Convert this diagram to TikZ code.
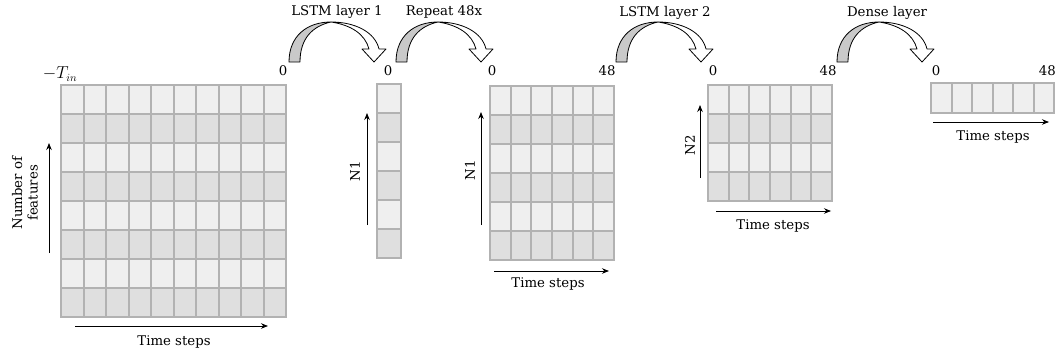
\documentclass[tikz,border=0pt]{standalone}
\usepackage{fontspec}
\setmainfont{DejaVu Serif}
\usetikzlibrary{arrows.meta}

\definecolor{celllight}{HTML}{EFEFEF}
\definecolor{celldark}{HTML}{DFDFDF}
\definecolor{cellline}{HTML}{B2B2B2}
\definecolor{bendgray}{HTML}{C9C9C9}

% striped cell grid: x0, y0, columns, rows, cell width, cell height
\newcommand\cellgrid[6]{%
  \foreach \i in {1,...,#4}{%
    \ifodd\i\relax\def\rowfill{celllight}\else\def\rowfill{celldark}\fi
    \fill[\rowfill] (#1,{#2+(\i-1)*#6}) rectangle ++({#3*#5},#6);
  }%
  \foreach \j in {1,...,#3}{\draw[gridline] ({round(#1+\j*#5)},#2) -- ++(0,{#4*#6});}%
  \foreach \i in {1,...,#4}{\draw[gridline] (#1,{round(#2+\i*#6)}) -- ++({#3*#5},0);}%
  \draw[gridline] (#1,#2) rectangle ++({#3*#5},{#4*#6});
}

% bent block arrow starting at base x = #1, base line y = 62
\newcommand\bentarrow[1]{%
  \filldraw[bendline,fill=bendgray]
    (#1,62) .. controls (#1,36) and (#1+18,22) .. (#1+42,22)
    .. controls (#1+24,26) and (#1+11,38) .. (#1+11,62) -- cycle;
  \filldraw[bendline,fill=white]
    (#1+42,22) .. controls (#1+66,22) and (#1+86,32) .. (#1+90,49)
    -- (#1+97,49) -- (#1+85,62) -- (#1+73,49) -- (#1+80,49)
    .. controls (#1+76,34) and (#1+62,25) .. (#1+42,22) -- cycle;
}

\tikzset{
  gridline/.style={draw=cellline,line width=1.3pt},
  bendline/.style={draw=black,line width=0.8pt,line join=round},
  axis/.style={draw=black,line width=0.8pt,-{Stealth[length=7pt,width=5.5pt]}},
  lbl/.style={inner sep=0pt,font=\fontsize{13.3}{15.5}\selectfont},
  tick/.style={inner sep=0pt,font=\fontsize{13.3}{15.5}\selectfont}
}

\begin{document}
\begin{tikzpicture}[x=1pt,y=-1pt]
\path[use as bounding box] (0,0) rectangle (1056,353);

% input window
\cellgrid{61}{85}{10}{8}{22.5}{29}
% LSTM layer 1 output vector
\cellgrid{377}{84}{1}{6}{24}{29}
% repeated sequence
\cellgrid{490}{86}{6}{6}{20.667}{29}
% LSTM layer 2 output
\cellgrid{708}{85}{6}{4}{20.667}{29}
% dense output
\fill[celllight] (931,83) rectangle (1054,113);
\foreach \j in {1,...,5}{\draw[gridline] ({round(931+\j*20.5)},83) -- ++(0,30);}
\draw[gridline] (931,83) rectangle (1054,113);

% bent arrows between stages
\bentarrow{289}
\bentarrow{396}
\bentarrow{616}
\bentarrow{837}

\node[lbl] (l1) at (337,12) {LSTM layer 1};
\node[lbl] (rp) at (444,12) {Repeat 48x};
\node[lbl] (l2) at (665,13) {LSTM layer 2};
\node[lbl] (dn) at (887,13) {Dense layer};

% time indices
\node[tick,font=\fontsize{16}{18}\selectfont] (tin) at (60,74) {$-T_{in}$};
\node[tick] (z1) at (283,71) {0};
\node[tick] (z2) at (388,71) {0};
\node[tick] (z3) at (492,71) {0};
\node[tick] (e3) at (607,71) {48};
\node[tick] (z4) at (713,71) {0};
\node[tick] (e4) at (828,71) {48};
\node[tick] (z5) at (936,71) {0};
\node[tick,anchor=east] (e5) at (1056,71) {48};

% axes of the input window
\coordinate (f0) at (49,253);
\coordinate (f1) at (49,143);
\draw[axis] (f0) -- (f1);
\node[lbl,rotate=90,align=center] (nf) at (25,193) {Number of\\features};
\coordinate (t0) at (75,326);
\coordinate (t1) at (268,326);
\draw[axis] (t0) -- (t1);
\node[lbl] (ts1) at (174,342) {Time steps};

% axes of the LSTM layer 1 vector
\coordinate (v0) at (367,225);
\coordinate (v1) at (367,113);
\draw[axis] (v0) -- (v1);
\node[lbl,rotate=90] (n1a) at (355,171) {N1};

% axes of the repeated sequence
\coordinate (r0) at (481,225);
\coordinate (r1) at (481,112);
\draw[axis] (r0) -- (r1);
\node[lbl,rotate=90] (n1b) at (470,170) {N1};
\coordinate (rt0) at (494,271);
\coordinate (rt1) at (609,271);
\draw[axis] (rt0) -- (rt1);
\node[lbl] (ts2) at (548,284) {Time steps};

% axes of the LSTM layer 2 output
\coordinate (s0) at (700,178);
\coordinate (s1) at (700,105);
\draw[axis] (s0) -- (s1);
\node[lbl,rotate=90] (n2) at (690,145) {N2};
\coordinate (st0) at (716,211);
\coordinate (st1) at (831,211);
\draw[axis] (st0) -- (st1);
\node[lbl] (ts3) at (773,226) {Time steps};

% axis of the dense output
\coordinate (d0) at (933,122);
\coordinate (d1) at (1049,122);
\draw[axis] (d0) -- (d1);
\node[lbl] (ts4) at (993,137) {Time steps};
\end{tikzpicture}
\end{document}
